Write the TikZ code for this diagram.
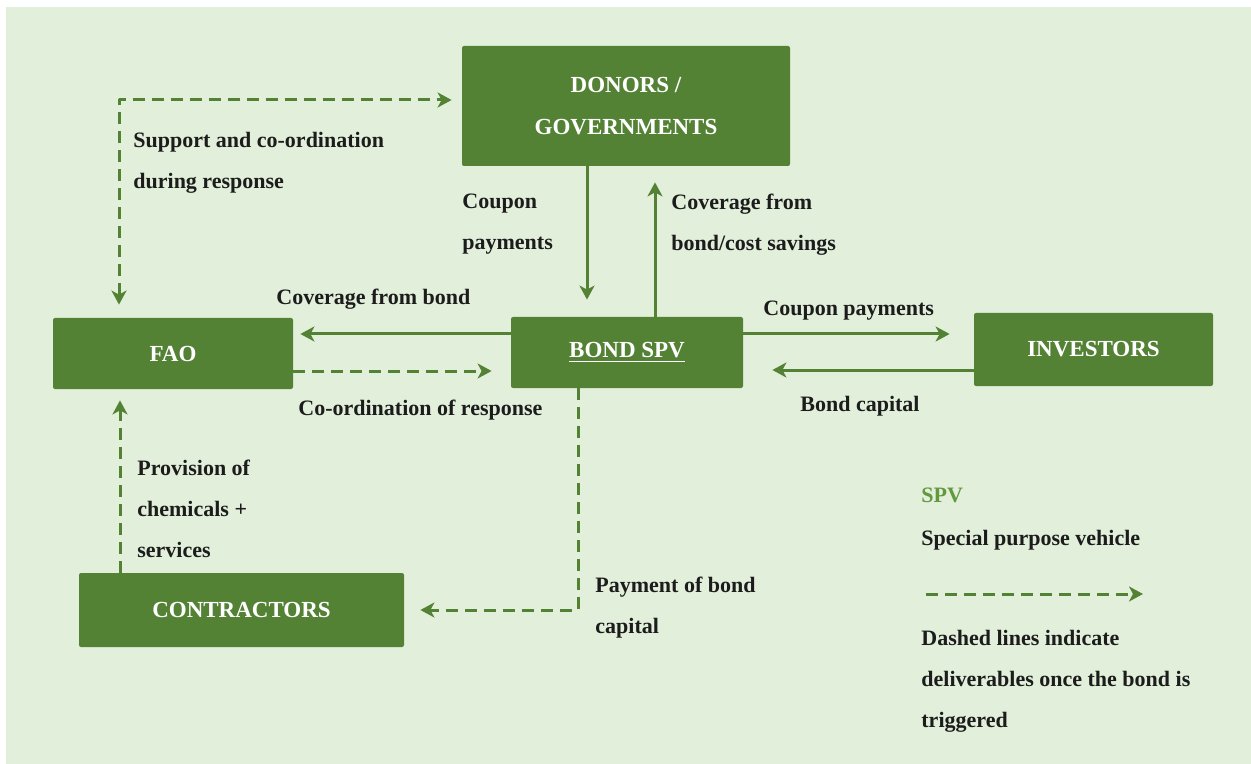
\documentclass[tikz,border=0pt]{standalone}
\usepackage{fontspec}
\setmainfont{Liberation Serif}
\usetikzlibrary{calc,arrows.meta}
\definecolor{boxgreen}{HTML}{548235}
\definecolor{bggreen}{HTML}{E2EFDA}
\definecolor{spvgreen}{HTML}{62993F}
\definecolor{inkblack}{HTML}{1C1C1C}
\begin{document}
\begin{tikzpicture}[font=\fontsize{11}{20.5}\selectfont\bfseries, line join=round, >={Stealth[length=7pt,width=7.5pt,inset=2pt]}, x=0.5pt, y=-0.5pt]
	\tikzset{box/.style={fill=boxgreen, rounded corners=1pt, text=white, align=center, inner sep=0pt, font=\fontsize{11.5}{21}\selectfont\bfseries},
		flow/.style={boxgreen, line width=1.5pt},
		dflow/.style={flow, dash pattern=on 6pt off 3.5pt},
		lbl/.style={anchor=north west, inner sep=0pt, align=left, text=inkblack}}
	\def\px{0.5pt}
	\fill[bggreen] (6,7) rectangle (1251,764);
	\useasboundingbox (0,0) rectangle (1251,764);
	% boxes
	\foreach \p/\n/\w/\h/\t in {(626,106)/donors/328/120/{DONORS /\\GOVERNMENTS}, (173,353.5)/fao/240/71/FAO, (627,352.5)/bond/232/71/{\underline{BOND SPV}}, (1093.5,349.5)/investors/239/73/INVESTORS, (241.5,610)/contractors/325/74/CONTRACTORS}
		\node[box, minimum width=\w*\px, minimum height=\h*\px] (\n) at \p {\t};
	% labels
	\node[lbl] (lsupport) at (133,132) {Support and co-ordination\\during response};
	\node[lbl] (lcoupon) at (462,194) {Coupon\\payments};
	\node[lbl] (lcover) at (671,194) {Coverage from\\bond/cost savings};
	\node[lbl] (lcoverbond) at (276,289) {Coverage from bond};
	\node[lbl] (lcoord) at (298,400) {Co-ordination of response};
	\node[lbl] (lcouponr) at (763,301) {Coupon payments};
	\node[lbl] (lcapital) at (800,396) {Bond capital};
	\node[lbl] (lprov) at (137,460) {Provision of\\chemicals +\\services};
	\node[lbl] (lpay) at (595,577) {Payment of bond\\capital};
	\node[lbl, text=spvgreen] (lspv) at (921,488) {SPV};
	\node[lbl] (lspvtext) at (921,530) {Special purpose vehicle};
	\node[lbl] (ldash) at (921,630) {Dashed lines indicate\\deliverables once the bond is\\triggered};
	% connectors
	\draw[dflow,<->] ($(fao.north)+(-54,-13)$) |- ($(donors.west)+(-10,-6)$);
	\draw[flow,->] ($(donors.south)+(-39,0)$) -- ($(bond.north)+(-40,-17)$);
	\draw[flow,->] ($(bond.north)+(28,0)$) -- ($(donors.south)+(29,16)$);
	\draw[flow,->] ($(bond.west)+(0,-18.5)$) -- ($(fao.east)+(7,-19.5)$);
	\draw[dflow,->] ($(fao.east)+(0,17.5)$) -- ($(bond.west)+(-19,18.5)$);
	\draw[flow,->] ($(bond.east)+(0,-18.5)$) -- ($(investors.west)+(-24,-15.5)$);
	\draw[flow,->] ($(investors.west)+(0,20.5)$) -- ($(bond.east)+(29,17.5)$);
	\draw[dflow,->] ($(bond.south)+(-49,0)$) |- ($(contractors.east)+(16,0)$);
	\draw[dflow,->] ($(contractors.north)+(-121.5,0)$) -- ($(fao.south)+(-53,11)$);
	% legend
	\coordinate (legA) at (926,594);
	\coordinate (legB) at (1143,594);
	\draw[dflow,->] (legA) -- (legB);
\end{tikzpicture}
\end{document}
